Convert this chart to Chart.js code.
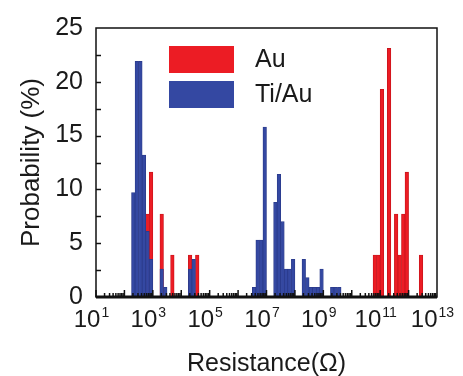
<!DOCTYPE html>
<html>
<head>
<meta charset="utf-8">
<script src="https://cdn.jsdelivr.net/npm/chart.js@4.4.1/dist/chart.umd.min.js"></script>
<style>
  html, body { margin: 0; padding: 0; background: #fff; }
  canvas { display: block; }
</style>
</head>
<body>
<canvas id="histChart" width="463" height="376"></canvas>
<script>
// bin centres as log10(R / Ohm), bin width 1/8 decade; probability in %
var auLogR = [2.8125, 2.9375, 3.3125, 3.6875, 4.3125, 4.5625,
              10.8125, 10.9375, 11.0625, 11.3125, 11.5625, 11.6875, 11.8125, 11.9375, 12.4375];
var auProb = [7.7, 11.6, 7.7, 3.9, 3.9, 3.9,
              3.9, 3.9, 19.3, 23.1, 7.7, 3.9, 7.7, 11.6, 3.9];

var tiAuLogR = [2.3125, 2.4375, 2.5625, 2.6875, 2.8125, 2.9375, 3.3125, 3.4375, 4.3125, 4.4375,
                6.5625, 6.6875, 6.8125, 6.9375, 7.3125, 7.4375, 7.5625, 7.6875, 7.8125, 7.9375,
                8.3125, 8.4375, 8.5625, 8.6875, 8.8125, 8.9375, 9.3125, 9.4375, 9.5625];
var tiAuProb = [9.7, 21.9, 21.9, 13.2, 6.1, 3.5, 2.6, 0.9, 2.6, 3.5,
                0.9, 5.3, 5.3, 15.8, 8.8, 11.4, 7.0, 2.6, 2.6, 3.5,
                3.5, 1.8, 0.9, 0.9, 0.9, 2.6, 0.9, 0.9, 0.9];

var xTicks = [1, 3, 5, 7, 9, 11, 13];   // exponents of 10
var yTicks = [0, 5, 10, 15, 20, 25];

var FONT = '"Liberation Sans", Arial, sans-serif';
var INK = '#1a1a1a';

function points(xs, ys) {
  return xs.map(function(v, i) { return {x: v, y: ys[i]}; });
}

// frame, inward ticks, 10^n labels and the legend box
var decorations = {
  id: 'decorations',
  afterDatasetsDraw: function(chart) {
    var ctx = chart.ctx, a = chart.chartArea;
    var x = chart.scales.x, y = chart.scales.y;
    ctx.save();
    ctx.strokeStyle = '#111';
    ctx.lineWidth = 1.5;
    ctx.strokeRect(a.left, a.top, a.right - a.left, a.bottom - a.top);

    ctx.lineWidth = 1.5;
    for (var v = 2.5; v < 25; v += 2.5) {
      var py = Math.round(y.getPixelForValue(v)) + 0.5;
      ctx.beginPath(); ctx.moveTo(a.left, py); ctx.lineTo(a.left + 5, py); ctx.stroke();
    }

    for (var d = 1; d < 13; d++) {
      for (var k = 1; k < 10; k++) {
        var px = x.getPixelForValue(d + Math.log10(k));
        var len = k === 1 ? 7 : 4;
        ctx.beginPath(); ctx.moveTo(px, a.bottom); ctx.lineTo(px, a.bottom - len); ctx.stroke();
      }
    }
    ctx.lineWidth = 3;
    ctx.beginPath(); ctx.moveTo(a.left, a.bottom); ctx.lineTo(a.right, a.bottom); ctx.stroke();

    // tick labels 10^n
    ctx.fillStyle = INK;
    ctx.textBaseline = 'alphabetic';
    ctx.textAlign = 'left';
    x.ticks.forEach(function(t) {
      var tx = x.getPixelForValue(t.value);
      ctx.font = '24px ' + FONT;
      var wb = ctx.measureText('10').width;
      ctx.font = '14px ' + FONT;
      var exp = String(t.value);
      var we = ctx.measureText(exp).width;
      var x0 = tx - 5 - (wb + we) / 2;
      ctx.font = '24px ' + FONT;
      ctx.fillText('10', x0, a.bottom + 30);
      ctx.font = '14px ' + FONT;
      ctx.fillText(exp, x0 + wb + 1, a.bottom + 20);
    });

    // legend
    ctx.font = '25px ' + FONT;
    ctx.textBaseline = 'middle';
    chart.data.datasets.forEach(function(ds, i) {
      var top = a.top + 18 + i * 35;
      ctx.fillStyle = ds.backgroundColor;
      ctx.fillRect(a.left + 73, top, 65, 27);
      ctx.fillStyle = INK;
      ctx.fillText(ds.label, a.left + 159, top + 14);
    });
    ctx.restore();
  }
};

var ctx = document.getElementById('histChart').getContext('2d');
var histChart = new Chart(ctx, {
  type: 'bar',
  data: {
    datasets: [
      {
        label: 'Au',
        data: points(auLogR, auProb),
        backgroundColor: '#ec1c24',
        borderColor: '#c8141b',
        borderWidth: 0.8,
        grouped: false,
        order: 2
      },
      {
        label: 'Ti/Au',
        data: points(tiAuLogR, tiAuProb),
        backgroundColor: '#3448a2',
        borderColor: '#2a3a8a',
        borderWidth: 0.8,
        grouped: false,
        order: 1
      }
    ]
  },
  options: {
    responsive: false,
    animation: false,
    devicePixelRatio: 1,
    barPercentage: 1,
    categoryPercentage: 1,
    layout: { padding: { top: 23, right: 26, left: 0, bottom: 0 } },
    plugins: { legend: { display: false }, tooltip: { enabled: false } },
    scales: {
      x: {
        type: 'linear',
        offset: false,
        min: 1,
        max: 13,
        grid: { display: false },
        border: { display: false },
        ticks: { display: false },
        afterBuildTicks: function(s) { s.ticks = xTicks.map(function(v) { return {value: v}; }); },
        afterFit: function(s) { s.height = 79; },
        title: {
          display: true,
          text: 'Resistance(Ω)',
          color: INK,
          font: { family: FONT, size: 25, lineHeight: 1 },
          padding: { top: 0, bottom: -1 }
        }
      },
      y: {
        min: 0,
        max: 25,
        grid: { display: false, drawTicks: false },
        border: { display: false },
        afterBuildTicks: function(s) { s.ticks = yTicks.map(function(v) { return {value: v}; }); },
        afterFit: function(s) { s.width = 96; },
        ticks: {
          color: INK,
          padding: 13,
          font: { family: FONT, size: 25 }
        },
        title: {
          display: true,
          text: 'Probability (%)',
          color: INK,
          font: { family: FONT, size: 26, lineHeight: 1 },
          padding: { top: 19, bottom: 0 }
        }
      }
    }
  },
  plugins: [decorations]
});
</script>
</body>
</html>
